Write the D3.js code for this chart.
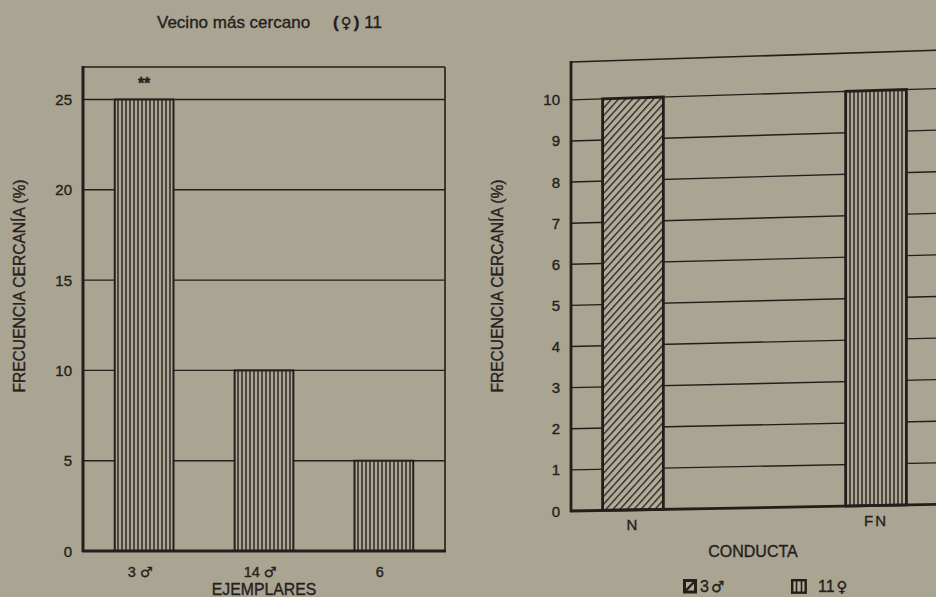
<!DOCTYPE html>
<html>
<head>
<meta charset="utf-8">
<script src="https://cdn.jsdelivr.net/npm/d3@7/dist/d3.min.js"></script>
<style>
  html, body { margin: 0; padding: 0; background: #aaa492; }
  svg { display: block; }
  text { font-family: "Liberation Sans", Arial, sans-serif; fill: #24211c; stroke: #24211c; stroke-width: 0.35px; }
</style>
</head>
<body>
<svg id="chart" width="936" height="597"></svg>
<script>
// ---- data ----
const titleText = "Vecino más cercano";
const titleSuffix = ["(", "♀", ")", "11"];

const leftCategories = ["3", "14", "6"];
const leftSymbols = ["♂", "♂", ""];
const leftValues = [25, 10, 5];
const leftMarks = ["**", "", ""];
const leftTicks = [0, 5, 10, 15, 20, 25];
const leftXTitle = "EJEMPLARES";

const rightCategories = ["N", "FN"];
const rightValues = [10, 10];
const rightPatterns = ["hatch", "vert"];
const rightTicks = [0, 1, 2, 3, 4, 5, 6, 7, 8, 9, 10];
const rightXTitle = "CONDUCTA";

const yTitle = "FRECUENCIA CERCANÍA (%)";
const legendLabels = ["3", "11"];
const legendSymbols = ["♂", "♀"];
const legendPatterns = ["hatch", "vert"];

// ---- style ----
const ink = "#221f1a";
const bg = "#aaa492";

const svg = d3.select("#chart");
svg.append("rect").attr("width", 936).attr("height", 597).attr("fill", bg);

const defs = svg.append("defs");
const vp = defs.append("pattern").attr("id", "vert").attr("patternUnits", "userSpaceOnUse")
  .attr("width", 4).attr("height", 10);
vp.append("rect").attr("width", 4).attr("height", 10).attr("fill", "#ada795");
vp.append("rect").attr("x", 1.3).attr("width", 1.4).attr("height", 10).attr("fill", ink);

const hp = defs.append("pattern").attr("id", "hatch").attr("patternUnits", "userSpaceOnUse")
  .attr("width", 5.2).attr("height", 10).attr("patternTransform", "rotate(42)");
hp.append("rect").attr("width", 5.2).attr("height", 10).attr("fill", "#b1ab99");
hp.append("rect").attr("x", 0).attr("width", 1.4).attr("height", 10).attr("fill", "#2e2a24");

// ---- title ----
svg.append("text").attr("x", 157).attr("y", 28).attr("font-size", 17).text(titleText);
const ts = svg.append("text").attr("x", 333).attr("y", 28).attr("font-size", 17);
ts.append("tspan").attr("font-weight", "bold").text(titleSuffix[0]);
ts.append("tspan").attr("dx", 2).attr("font-family", "DejaVu Sans").attr("font-weight", "bold").attr("font-size", 15).text(titleSuffix[1]);
ts.append("tspan").attr("dx", 2).attr("font-weight", "bold").text(titleSuffix[2]);
ts.append("tspan").attr("dx", 5).text(titleSuffix[3]);

// ---- left panel ----
const L = { x0: 83, x1: 445, top: 67, bottom: 551 };
const xL = d3.scaleBand().domain(leftCategories).range([L.x0, L.x1]).paddingInner(0.51).paddingOuter(0.265);
const yL = d3.scaleLinear().domain([0, 26.8]).range([L.bottom, L.top]);

const gL = svg.append("g");
gL.selectAll("line.grid").data(leftTicks.filter(d => d > 0)).join("line")
  .attr("x1", L.x0).attr("x2", L.x1).attr("y1", d => yL(d)).attr("y2", d => yL(d))
  .attr("stroke", ink).attr("stroke-width", 1.4);
gL.append("line").attr("x1", L.x0).attr("x2", L.x1).attr("y1", L.top).attr("y2", L.top).attr("stroke", ink).attr("stroke-width", 1.6);
gL.append("line").attr("x1", L.x1).attr("x2", L.x1).attr("y1", L.top).attr("y2", L.bottom).attr("stroke", ink).attr("stroke-width", 1.6);

gL.selectAll("rect.bar").data(leftValues).join("rect").attr("class", "bar")
  .attr("x", (d, i) => xL(leftCategories[i])).attr("width", xL.bandwidth())
  .attr("y", d => yL(d)).attr("height", d => yL(0) - yL(d))
  .attr("fill", "url(#vert)").attr("stroke", ink).attr("stroke-width", 2);

gL.selectAll("text.mark").data(leftMarks).join("text")
  .attr("x", (d, i) => xL(leftCategories[i]) + xL.bandwidth() / 2)
  .attr("y", (d, i) => yL(leftValues[i]) - 11)
  .attr("text-anchor", "middle").attr("font-size", 16).attr("font-weight", "bold").text(d => d);

gL.append("line").attr("x1", L.x0).attr("x2", L.x0).attr("y1", L.top - 1).attr("y2", L.bottom + 1).attr("stroke", ink).attr("stroke-width", 3);
gL.append("line").attr("x1", L.x0 - 1).attr("x2", L.x1 + 1).attr("y1", L.bottom).attr("y2", L.bottom).attr("stroke", ink).attr("stroke-width", 3);

gL.selectAll("text.tick").data(leftTicks).join("text")
  .attr("x", L.x0 - 11).attr("y", d => yL(d) + 5.5)
  .attr("text-anchor", "end").attr("font-size", 15).text(d => d);

const xl = gL.selectAll("text.xlab").data(leftCategories).join("text")
  .attr("x", d => xL(d) + xL.bandwidth() / 2 - 4).attr("y", 577)
  .attr("text-anchor", "middle").attr("font-size", 14.5);
xl.append("tspan").text((d, i) => d + (leftSymbols[i] ? " " : ""));
xl.append("tspan").attr("font-family", "DejaVu Sans").attr("font-weight", "bold").attr("font-size", 14)
  .text((d, i) => leftSymbols[i]);

gL.append("text").attr("x", (L.x0 + L.x1) / 2).attr("y", 595).attr("text-anchor", "middle")
  .attr("font-size", 15.8).text(leftXTitle);
gL.append("text").attr("transform", "translate(25,286) rotate(-90)").attr("text-anchor", "middle")
  .attr("font-size", 15.6).text(yTitle);

// ---- right panel (the scanned page is slightly warped: lines rise to the right) ----
const R = { x0: 571, x1: 938, top: 62, bottom: 511 };
const slopeTop = 0.032, slopeBottom = 0.018;
function warp(x, y) {
  const t = (R.bottom - y) / (R.bottom - R.top);
  const s = slopeBottom + (slopeTop - slopeBottom) * t;
  return [x, y - (x - R.x0) * s];
}
const wline = pts => "M" + pts.map(p => warp(p[0], p[1]).join(",")).join("L");

const xR = d3.scaleBand().domain(rightCategories).range([R.x0, R.x1]).paddingInner(0.75).paddingOuter(0.13);
const yR = d3.scaleLinear().domain([0, 10.92]).range([R.bottom, R.top]);

const gR = svg.append("g");
gR.selectAll("path.grid").data(rightTicks.filter(d => d > 0)).join("path")
  .attr("d", d => wline([[R.x0, yR(d)], [R.x1, yR(d)]]))
  .attr("fill", "none").attr("stroke", ink).attr("stroke-width", 1.4);
gR.append("path").attr("d", wline([[R.x0, R.top], [R.x1, R.top]]))
  .attr("fill", "none").attr("stroke", ink).attr("stroke-width", 1.6);

gR.selectAll("path.bar").data(rightValues).join("path").attr("class", "bar")
  .attr("d", (d, i) => {
    const x0 = xR(rightCategories[i]), x1 = x0 + xR.bandwidth();
    return wline([[x0, yR(0)], [x0, yR(d)], [x1, yR(d)], [x1, yR(0)]]) + "Z";
  })
  .attr("fill", (d, i) => `url(#${rightPatterns[i]})`).attr("stroke", ink).attr("stroke-width", 2.8);

gR.append("path").attr("d", wline([[R.x0, R.top - 1], [R.x0, R.bottom + 1]]))
  .attr("stroke", ink).attr("stroke-width", 2.8);
gR.append("path").attr("d", wline([[R.x0 - 1, R.bottom], [R.x1, R.bottom]]))
  .attr("fill", "none").attr("stroke", ink).attr("stroke-width", 2.8);

gR.selectAll("text.tick").data(rightTicks).join("text")
  .attr("x", R.x0 - 11).attr("y", d => yR(d) + 5.5)
  .attr("text-anchor", "end").attr("font-size", 15).text(d => d);

gR.selectAll("text.xlab").data(rightCategories).join("text")
  .attr("x", d => warp(xR(d) + xR.bandwidth() / 2, 531)[0])
  .attr("y", d => warp(xR(d) + xR.bandwidth() / 2, 531)[1])
  .attr("text-anchor", "middle").attr("font-size", 15).attr("letter-spacing", 2).text(d => d);

gR.append("text").attr("transform", "translate(503,286) rotate(-90)").attr("text-anchor", "middle")
  .attr("font-size", 15.6).text(yTitle);

svg.append("text").attr("x", 753).attr("y", 557).attr("text-anchor", "middle")
  .attr("font-size", 16).text(rightXTitle);

// ---- legend ----
const legendX = [683, 791];
const lg = svg.selectAll("g.leg").data(legendLabels).join("g")
  .attr("transform", (d, i) => `translate(${legendX[i]},579)`);
lg.each(function (d, i) {
  const g = d3.select(this);
  if (legendPatterns[i] === "hatch") {
    g.append("rect").attr("x", 1.5).attr("y", 1.5).attr("width", 11).attr("height", 11.5)
      .attr("fill", "#b1ab99").attr("stroke", ink).attr("stroke-width", 3);
    g.append("line").attr("x1", 2.5).attr("y1", 12).attr("x2", 11.5).attr("y2", 2.5).attr("stroke", ink).attr("stroke-width", 2.4);
  } else {
    g.append("rect").attr("x", 1.2).attr("y", 1.2).attr("width", 13.5).attr("height", 12.5)
      .attr("fill", "#b1ab99").attr("stroke", ink).attr("stroke-width", 2.4);
    g.append("line").attr("x1", 5.5).attr("y1", 1.5).attr("x2", 5.5).attr("y2", 13.5).attr("stroke", ink).attr("stroke-width", 1.6);
    g.append("line").attr("x1", 10.5).attr("y1", 1.5).attr("x2", 10.5).attr("y2", 13.5).attr("stroke", ink).attr("stroke-width", 1.6);
  }
  const t = g.append("text").attr("x", legendPatterns[i] === "hatch" ? 17 : 27).attr("y", 13).attr("font-size", 16);
  t.append("tspan").text(legendLabels[i]);
  t.append("tspan").attr("dx", 2).attr("font-family", "DejaVu Sans").attr("font-weight", "bold").attr("font-size", 15).text(legendSymbols[i]);
});
</script>
</body>
</html>
